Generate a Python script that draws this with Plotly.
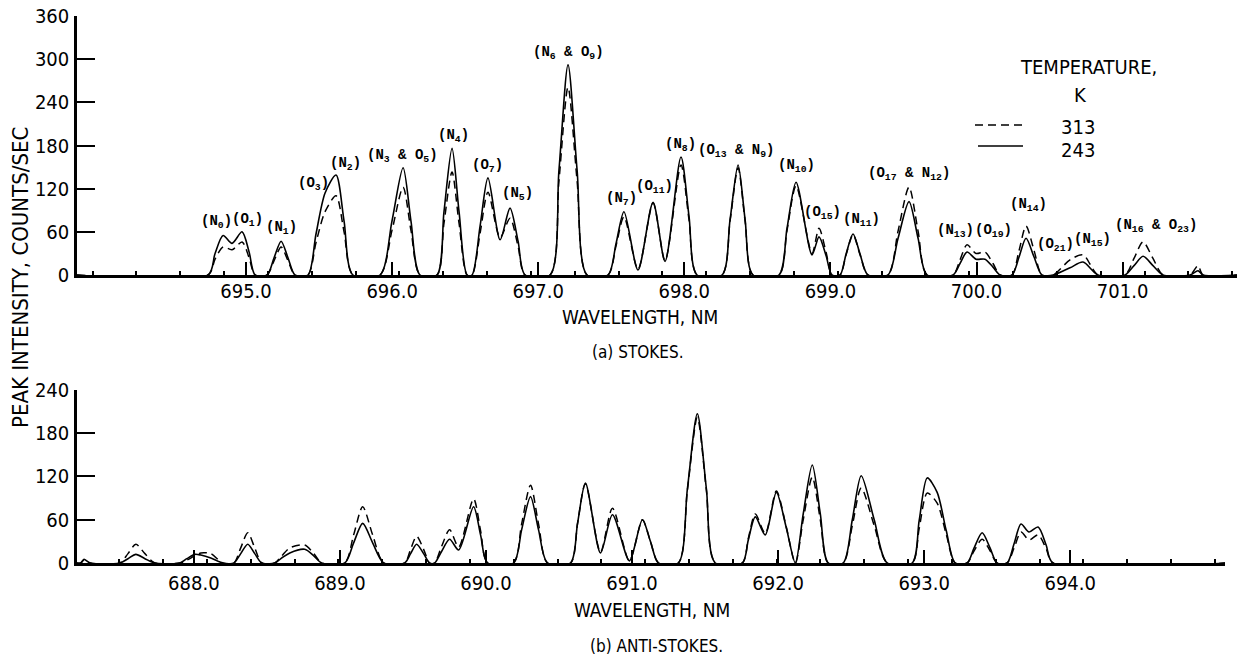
import plotly.graph_objects as go

# ---------------- data ----------------
# (a) Stokes
stokes_wavelength = [693.843, 694.740, 694.788, 694.843, 694.904, 694.973, 695.021, 695.062, 695.144, 695.192,
                     695.240, 695.287, 695.335, 695.424, 695.479, 695.541, 695.616, 695.671, 695.732, 695.917,
                     695.999, 696.075, 696.129, 696.191, 696.307, 696.355, 696.410, 696.458, 696.513, 696.547,
                     696.602, 696.656, 696.739, 696.807, 696.862, 696.910, 697.081, 697.142, 697.204, 697.266,
                     697.334, 697.478, 697.533, 697.587, 697.683, 697.786, 697.868, 697.977, 698.032, 698.087,
                     698.258, 698.313, 698.368, 698.416, 698.470, 698.648, 698.703, 698.765, 698.874, 698.922,
                     698.970, 699.011, 699.066, 699.107, 699.155, 699.203, 699.257, 699.394, 699.463, 699.538,
                     699.600, 699.661, 699.839, 699.887, 699.935, 699.997, 700.058, 700.113, 700.161, 700.243,
                     700.291, 700.339, 700.394, 700.448, 700.524, 700.640, 700.729, 700.832, 701.016, 701.078,
                     701.140, 701.208, 701.277, 701.461, 701.516, 701.550, 701.783]
stokes_243K = [0, 0, 30, 55, 44, 60, 32, 0, 0, 24,
               47, 24, 0, 0, 57, 114, 139, 75, 0, 0,
               75, 149, 75, 0, 0, 88, 176, 88, 0, 0,
               68, 135, 49, 93, 47, 0, 0, 146, 292, 146,
               0, 0, 44, 88, 7, 101, 19, 164, 82, 0,
               0, 77, 153, 77, 0, 0, 65, 129, 28, 53,
               27, 0, 0, 29, 57, 29, 0, 0, 51, 102,
               51, 0, 0, 16, 32, 22, 22, 11, 0, 0,
               25, 51, 25, 0, 0, 10, 18, 0, 0, 13,
               26, 13, 0, 0, 6, 0, 0]
stokes_313K = [0, 0, 22, 39, 35, 46, 24, 0, 0, 20,
               39, 20, 0, 0, 45, 88, 110, 60, 0, 0,
               62, 122, 62, 0, 0, 72, 143, 72, 0, 0,
               58, 115, 52, 79, 40, 0, 0, 131, 261, 131,
               0, 0, 41, 81, 8, 100, 20, 153, 77, 0,
               0, 75, 149, 75, 0, 0, 62, 124, 30, 65,
               32, 0, 0, 28, 56, 28, 0, 0, 61, 122,
               61, 0, 0, 21, 42, 30, 32, 16, 0, 0,
               34, 68, 34, 0, 0, 21, 28, 0, 0, 23,
               46, 23, 0, 0, 13, 0, 0]

# (b) Anti-Stokes
anti_wavelength = [687.200, 687.225, 687.248, 687.290, 687.494, 687.549, 687.603, 687.665, 687.733, 687.904,
                   687.952, 688.007, 688.048, 688.116, 688.198, 688.274, 688.321, 688.369, 688.417, 688.465,
                   688.554, 688.602, 688.657, 688.759, 688.821, 688.876, 689.033, 689.094, 689.156, 689.224,
                   689.300, 689.443, 689.484, 689.525, 689.573, 689.614, 689.648, 689.696, 689.751, 689.813,
                   689.915, 689.963, 690.011, 690.189, 690.244, 690.305, 690.360, 690.421, 690.579, 690.627,
                   690.681, 690.784, 690.866, 690.982, 691.071, 691.126, 691.181, 691.317, 691.379, 691.447,
                   691.509, 691.570, 691.755, 691.796, 691.844, 691.912, 691.988, 692.056, 692.118, 692.172,
                   692.234, 692.289, 692.343, 692.446, 692.508, 692.569, 692.658, 692.747, 692.918, 692.966,
                   693.021, 693.089, 693.151, 693.212, 693.294, 693.342, 693.397, 693.451, 693.499, 693.568,
                   693.616, 693.663, 693.718, 693.780, 693.835, 693.882, 695.060]
anti_243K = [0, 0, 5, 0, 0, 6, 12, 6, 0, 0,
             6, 12, 11, 7, 0, 0, 13, 26, 13, 0,
             0, 7, 14, 19, 10, 0, 0, 28, 55, 28,
             0, 0, 13, 26, 13, 0, 0, 16, 33, 18,
             78, 39, 0, 0, 46, 92, 46, 0, 0, 55,
             111, 14, 67, 3, 60, 30, 0, 0, 103, 207,
             103, 0, 0, 32, 64, 39, 98, 49, 0, 68,
             136, 68, 0, 0, 60, 121, 60, 0, 0, 59,
             118, 98, 45, 0, 0, 21, 42, 21, 0, 0,
             27, 54, 43, 50, 25, 0, 0]
anti_313K = [0, 0, 4, 0, 0, 13, 26, 13, 0, 0,
             4, 10, 14, 13, 0, 0, 21, 42, 21, 0,
             0, 10, 21, 25, 13, 0, 0, 39, 78, 39,
             0, 0, 19, 37, 19, 0, 0, 23, 46, 22,
             89, 45, 0, 0, 54, 108, 54, 0, 0, 55,
             110, 15, 76, 3, 60, 30, 0, 0, 101, 202,
             101, 0, 0, 34, 68, 41, 100, 50, 0, 60,
             119, 60, 0, 0, 52, 104, 52, 0, 0, 48,
             97, 83, 40, 0, 0, 17, 33, 17, 0, 0,
             21, 43, 32, 39, 20, 0, 0]

# peak labels of the Stokes spectrum (text, wavelength, intensity)
label_text = ["(N<sub>0</sub>)", "(O<sub>1</sub>)", "(N<sub>1</sub>)", "(O<sub>3</sub>)", "(N<sub>2</sub>)",
              "(N<sub>3</sub> & O<sub>5</sub>)", "(N<sub>4</sub>)", "(O<sub>7</sub>)", "(N<sub>5</sub>)",
              "(N<sub>6</sub> & O<sub>9</sub>)", "(N<sub>7</sub>)", "(O<sub>11</sub>)", "(N<sub>8</sub>)",
              "(O<sub>13</sub> & N<sub>9</sub>)", "(N<sub>10</sub>)", "(O<sub>15</sub>)", "(N<sub>11</sub>)",
              "(O<sub>17</sub> & N<sub>12</sub>)", "(N<sub>13</sub>)", "(O<sub>19</sub>)", "(N<sub>14</sub>)",
              "(O<sub>21</sub>)", "(N<sub>15</sub>)", "(N<sub>16</sub> & O<sub>23</sub>)"]
label_wl = [694.795, 695.007, 695.240, 695.459, 695.678, 696.068, 696.417, 696.656, 696.855, 697.204,
            697.567, 697.799, 697.971, 698.354, 698.765, 698.949, 699.216, 699.538, 699.853, 700.113,
            700.359, 700.544, 700.797, 701.229]
label_int = [74, 77, 65, 127, 154, 165, 193, 151, 112, 308,
             106, 123, 181, 172, 151, 86, 77, 141, 61, 61,
             98, 42, 49, 68]

stokes_ticks = [695, 696, 697, 698, 699, 700, 701]
anti_ticks = [688, 689, 690, 691, 692, 693, 694]
stokes_yticks = [0, 60, 120, 180, 240, 300, 360]
anti_yticks = [0, 60, 120, 180, 240]

# ---------------- figure ----------------
NARROW = "Liberation Sans Narrow, DejaVu Sans Condensed, Roboto Condensed, DejaVu Sans, sans-serif"
MONO = "Liberation Mono, DejaVu Sans Mono, monospace"
DASH = "8px,5px"

fig = go.Figure()
line_solid = dict(color="black", width=1.6, shape="spline", smoothing=0.8)
line_dash = dict(color="black", width=1.5, shape="spline", smoothing=0.8, dash=DASH)

fig.add_trace(go.Scatter(x=stokes_wavelength, y=stokes_313K, mode="lines", line=line_dash,
                         xaxis="x", yaxis="y", name="313", showlegend=False))
fig.add_trace(go.Scatter(x=stokes_wavelength, y=stokes_243K, mode="lines", line=line_solid,
                         xaxis="x", yaxis="y", name="243", showlegend=False))
fig.add_trace(go.Scatter(x=anti_wavelength, y=anti_313K, mode="lines", line=line_dash,
                         xaxis="x2", yaxis="y2", name="313", showlegend=False))
fig.add_trace(go.Scatter(x=anti_wavelength, y=anti_243K, mode="lines", line=line_solid,
                         xaxis="x2", yaxis="y2", name="243", showlegend=False))

tickfont = dict(family=NARROW, size=20, color="black")
common_x = dict(ticks="inside", ticklen=13, tickwidth=2, tickcolor="black", showline=True,
                linewidth=2.5, linecolor="black", showgrid=False, zeroline=False, tickfont=tickfont)
common_y = dict(ticks="inside", ticklen=18, tickwidth=2, tickcolor="black", showline=True,
                linewidth=2.5, linecolor="black", showgrid=False, zeroline=False, tickfont=tickfont,
                ticklabelstandoff=1)

fig.update_layout(
    width=1237, height=664,
    margin=dict(l=77, r=0, t=16, b=101),
    paper_bgcolor="white", plot_bgcolor="white",
    xaxis=dict(domain=[0, 1], anchor="y", range=[693.843, 701.783],
               tickvals=stokes_ticks, ticktext=[f"{v:.1f}" for v in stokes_ticks],
               ticklabelstandoff=-4,
               minor=dict(tick0=696.95, dtick=0.3, ticks="inside", ticklen=4, tickwidth=1.5,
                          tickcolor="black", showgrid=False),
               **common_x),
    yaxis=dict(domain=[0.5265, 1], anchor="x", range=[0, 360], tickvals=stokes_yticks, **common_y),
    xaxis2=dict(domain=[0, 0.9897], anchor="y2", range=[687.2, 695.06],
                tickvals=anti_ticks, ticktext=[f"{v:.1f}" for v in anti_ticks],
                minor=dict(tick0=690.19, dtick=0.3, ticks="inside", ticklen=4, tickwidth=1.5,
                           tickcolor="black", showgrid=False),
                **common_x),
    yaxis2=dict(domain=[0, 0.3163], anchor="x2", range=[0, 240], tickvals=anti_yticks, **common_y),
)


def paper_y(py):
    return (563 - py) / 547.0


def paper_x(px):
    return (px - 77) / 1160.0


ann = []
for t, xw, yi in zip(label_text, label_wl, label_int):
    ann.append(dict(x=xw, y=yi, xref="x", yref="y", text=t, showarrow=False,
                    font=dict(family=MONO, size=14, color="black", weight="bold"),
                    xanchor="center", yanchor="middle"))

txt = dict(family=NARROW, size=20, color="black")
cap = dict(family=NARROW, size=17, color="black")


def ptext(text, px, py, font, angle=0):
    return dict(x=paper_x(px), y=paper_y(py), xref="paper", yref="paper", text=text, showarrow=False,
                font=font, xanchor="center", yanchor="middle", textangle=angle)


ann += [
    ptext("WAVELENGTH, NM", 640, 317, dict(family=NARROW, size=19, color="black")),
    ptext("(a) STOKES.", 638, 352, cap),
    ptext("WAVELENGTH, NM", 652, 610, dict(family=NARROW, size=19, color="black")),
    ptext("(b) ANTI-STOKES.", 656, 646, cap),
    ptext("PEAK INTENSITY, COUNTS/SEC", 20, 278, dict(family=NARROW, size=22, color="black"), -90),
    ptext("TEMPERATURE,", 1088, 67, txt),
    ptext("K", 1080, 95, txt),
    ptext("313", 1078, 127, txt),
    ptext("243", 1078, 150, txt),
]
fig.update_layout(annotations=ann)

fig.add_shape(type="line", xref="paper", yref="paper", x0=paper_x(975), x1=paper_x(1023),
              y0=paper_y(125), y1=paper_y(125), line=dict(color="black", width=1.5, dash=DASH))
fig.add_shape(type="line", xref="paper", yref="paper", x0=paper_x(978), x1=paper_x(1023),
              y0=paper_y(146), y1=paper_y(146), line=dict(color="black", width=1.5))

fig.write_html("out.html")
